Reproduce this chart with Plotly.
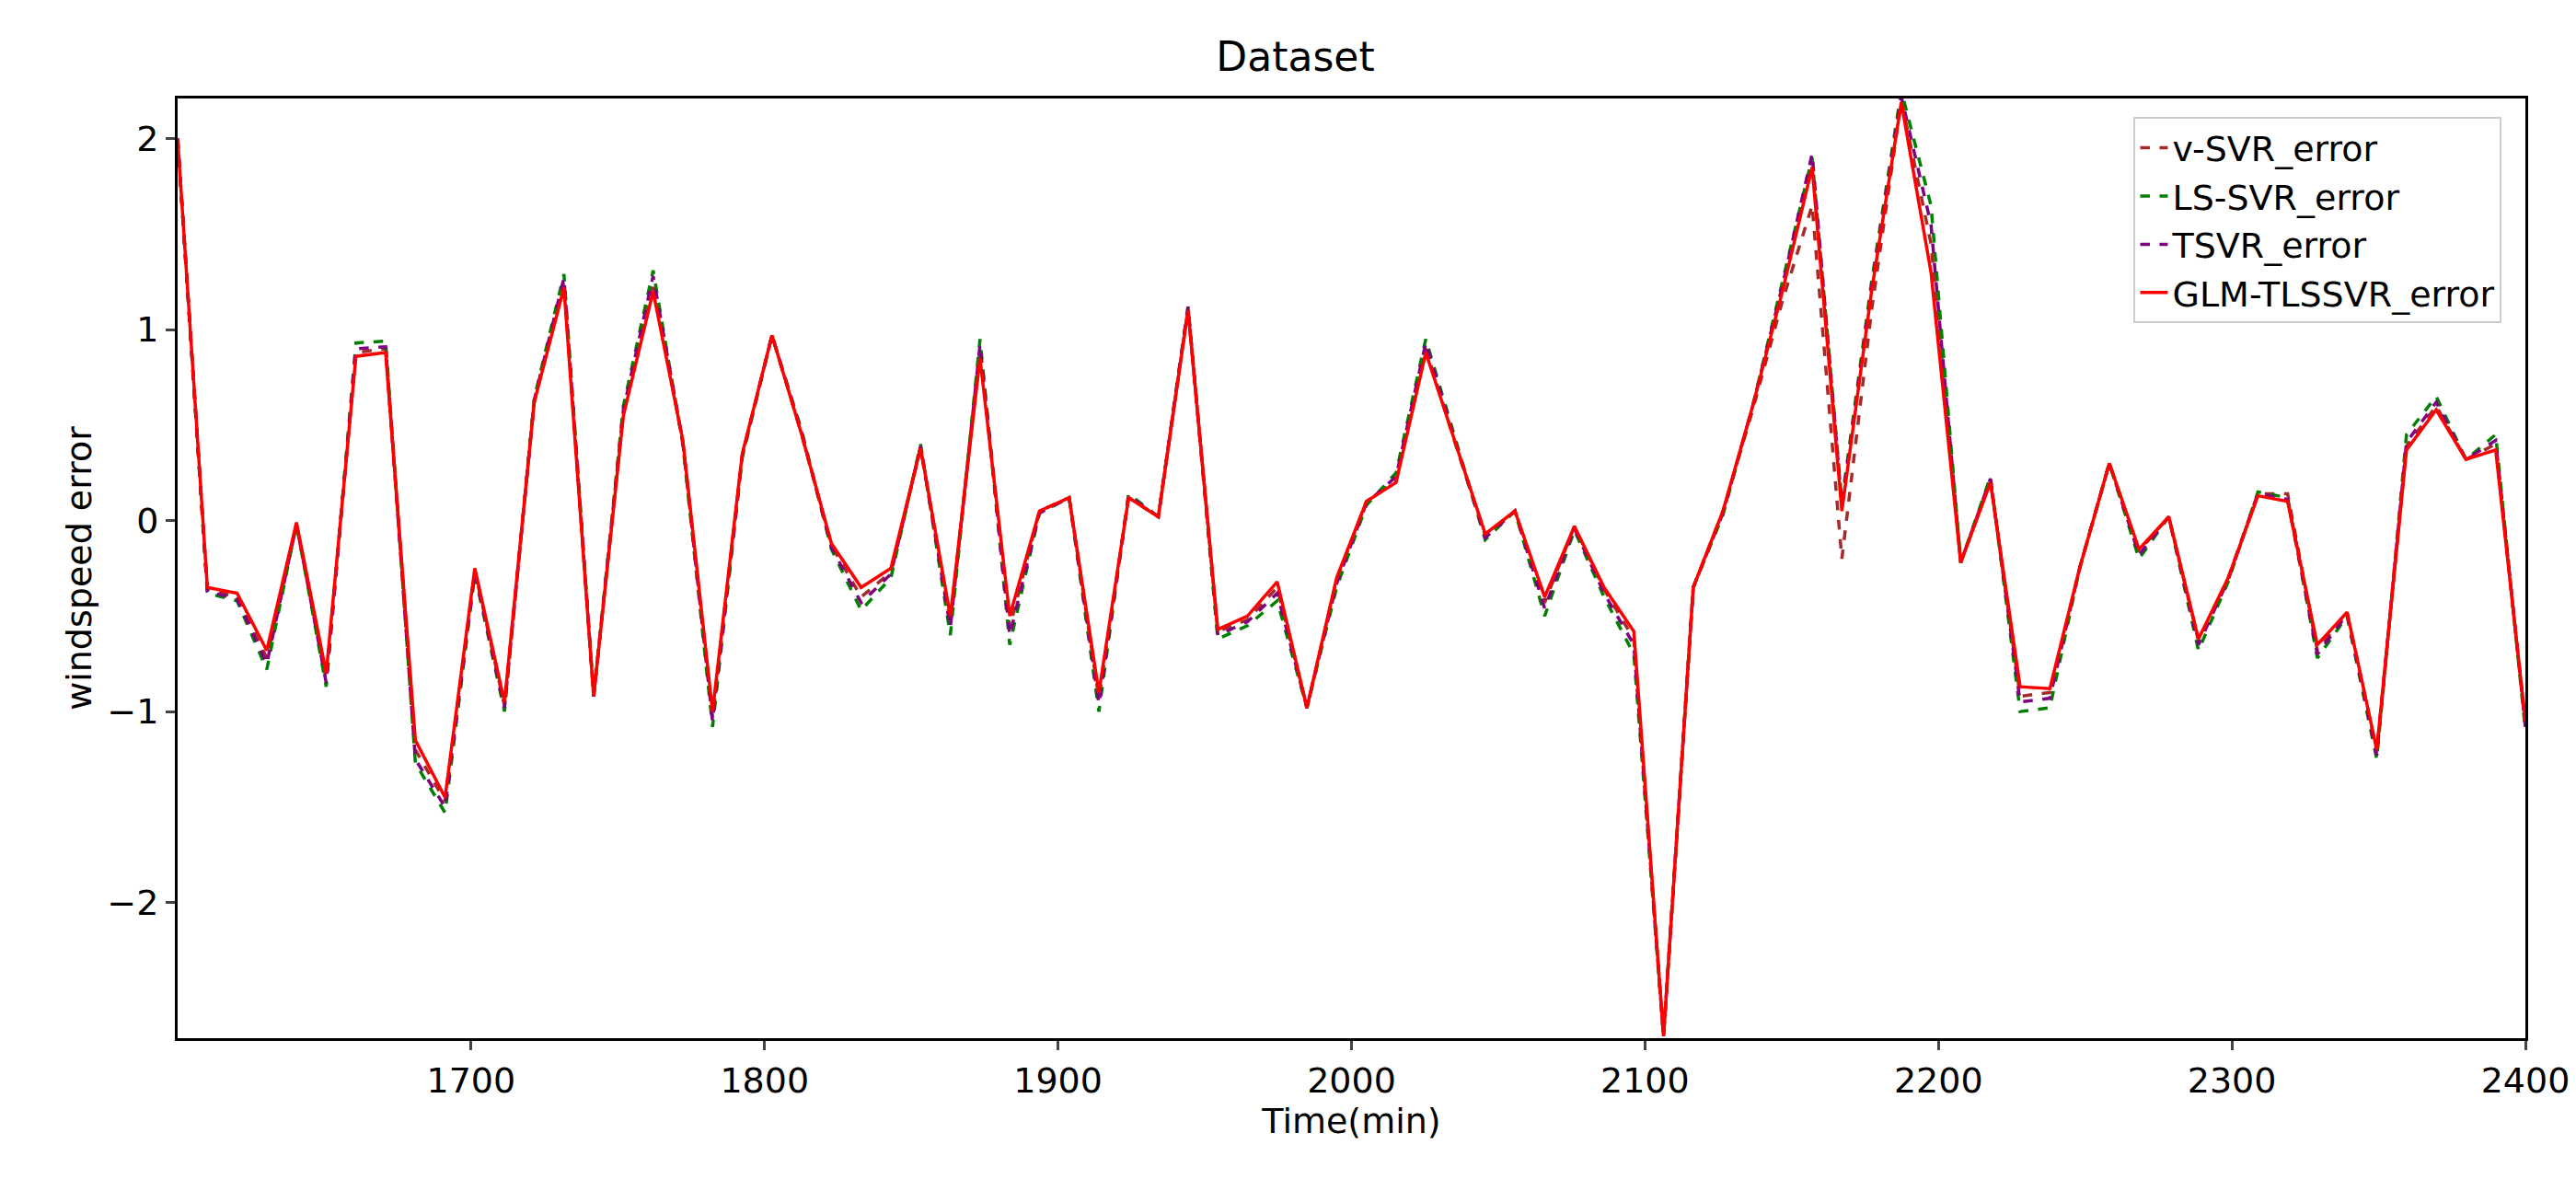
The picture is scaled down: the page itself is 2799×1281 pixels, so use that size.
import numpy as np
import plotly.graph_objects as go

# 80 samples spread evenly over 1600..2400 min
time_min = np.linspace(1600, 2400, 80)

glm_tlssvr = [2.0, -0.35, -0.38, -0.68, -0.01, -0.80, 0.86, 0.88, -1.15, -1.45,
              -0.25, -0.95, 0.62, 1.22, -0.92, 0.55, 1.20, 0.42, -1.00, 0.35,
              0.97, 0.45, -0.12, -0.35, -0.25, 0.38, -0.50, 0.85, -0.50, 0.05,
              0.12, -0.90, 0.12, 0.02, 1.10, -0.57, -0.50, -0.32, -0.98, -0.30,
              0.10, 0.20, 0.88, 0.40, -0.07, 0.05, -0.40, -0.03, -0.35, -0.58,
              -2.70, -0.35, 0.05, 0.60, 1.20, 1.85, 0.05, 1.20, 2.19, 1.30,
              -0.22, 0.20, -0.87, -0.88, -0.25, 0.30, -0.15, 0.02, -0.62, -0.30,
              0.13, 0.10, -0.65, -0.48, -1.20, 0.37, 0.58, 0.32, 0.37, -1.05]

ls_svr = [2.0, -0.38, -0.42, -0.78, -0.02, -0.87, 0.93, 0.94, -1.27, -1.53,
          -0.28, -1.00, 0.64, 1.29, -0.92, 0.60, 1.31, 0.40, -1.08, 0.33,
          0.97, 0.47, -0.15, -0.47, -0.30, 0.40, -0.60, 0.95, -0.65, 0.04,
          0.12, -1.00, 0.14, 0.02, 1.12, -0.62, -0.55, -0.42, -0.98, -0.35,
          0.08, 0.25, 0.95, 0.42, -0.10, 0.05, -0.50, -0.05, -0.40, -0.70,
          -2.70, -0.35, 0.03, 0.60, 1.25, 1.90, 0.10, 1.25, 2.25, 1.65,
          -0.22, 0.23, -1.00, -0.98, -0.25, 0.30, -0.20, 0.02, -0.68, -0.32,
          0.15, 0.12, -0.72, -0.50, -1.25, 0.45, 0.65, 0.32, 0.45, -1.10]

tsvr = [2.0, -0.37, -0.41, -0.75, -0.02, -0.85, 0.90, 0.91, -1.25, -1.50,
        -0.27, -0.98, 0.63, 1.27, -0.92, 0.58, 1.28, 0.41, -1.05, 0.34,
        0.97, 0.46, -0.14, -0.43, -0.28, 0.39, -0.56, 0.92, -0.60, 0.04,
        0.12, -0.96, 0.13, 0.02, 1.12, -0.60, -0.53, -0.38, -0.98, -0.33,
        0.09, 0.23, 0.93, 0.41, -0.09, 0.05, -0.46, -0.04, -0.38, -0.65,
        -2.70, -0.35, 0.04, 0.60, 1.23, 1.92, 0.08, 1.22, 2.22, 1.55,
        -0.22, 0.22, -0.95, -0.93, -0.25, 0.30, -0.18, 0.02, -0.65, -0.31,
        0.14, 0.11, -0.70, -0.49, -1.23, 0.41, 0.62, 0.32, 0.42, -1.08]

v_svr = [2.0, -0.36, -0.40, -0.72, -0.02, -0.83, 0.88, 0.90, -1.20, -1.47,
         -0.26, -0.97, 0.62, 1.25, -0.92, 0.57, 1.25, 0.41, -1.03, 0.34,
         0.97, 0.45, -0.13, -0.40, -0.27, 0.38, -0.53, 0.90, -0.56, 0.05,
         0.12, -0.93, 0.12, 0.02, 1.11, -0.58, -0.52, -0.35, -0.98, -0.31,
         0.10, 0.21, 0.90, 0.40, -0.08, 0.05, -0.43, -0.03, -0.36, -0.62,
         -2.70, -0.35, 0.05, 0.58, 1.15, 1.65, -0.20, 1.10, 2.20, 1.45,
         -0.22, 0.21, -0.92, -0.90, -0.25, 0.30, -0.16, 0.02, -0.63, -0.30,
         0.14, 0.14, -0.68, -0.48, -1.21, 0.39, 0.60, 0.32, 0.40, -1.06]

fig = go.Figure()
series = [
    ("v-SVR_error", v_svr, "#a52a2a", "dash"),
    ("LS-SVR_error", ls_svr, "green", "dash"),
    ("TSVR_error", tsvr, "purple", "dash"),
    ("GLM-TLSSVR_error", glm_tlssvr, "red", "solid"),
]
for name, vals, color, dash in series:
    fig.add_trace(go.Scatter(x=time_min, y=vals, mode="lines", name=name,
                             line=dict(color=color, dash=dash, width=3.5)))

axis_style = dict(showgrid=False, zeroline=False, showline=True, linecolor="black",
                  linewidth=3, mirror=True, ticks="outside", ticklen=10,
                  tickwidth=2.5, tickfont=dict(size=38, color="black"))
fig.update_xaxes(range=[1600, 2400], tickvals=[1700, 1800, 1900, 2000, 2100, 2200, 2300, 2400],
                 title=dict(text="Time(min)", font=dict(size=38, color="black"), standoff=4),
                 **axis_style)
fig.update_yaxes(range=[-2.71, 2.21], tickvals=[-2, -1, 0, 1, 2],
                 tickformat="d", title=dict(text="windspeed error", font=dict(size=38, color="black"), standoff=6),
                 **axis_style)
fig.update_layout(
    width=2799, height=1281,
    plot_bgcolor="white", paper_bgcolor="white",
    font=dict(family="DejaVu Sans", color="black"),
    title=dict(text="Dataset", x=0.5, xanchor="center", y=0.97, font=dict(size=44, color="black")),
    margin=dict(l=185, r=63, t=99, b=161),
    legend=dict(x=0.99, y=0.98, xanchor="right", yanchor="top", font=dict(size=38),
                bordercolor="#cccccc", borderwidth=2, bgcolor="rgba(255,255,255,0.8)"),
)
fig.write_html("out.html")
